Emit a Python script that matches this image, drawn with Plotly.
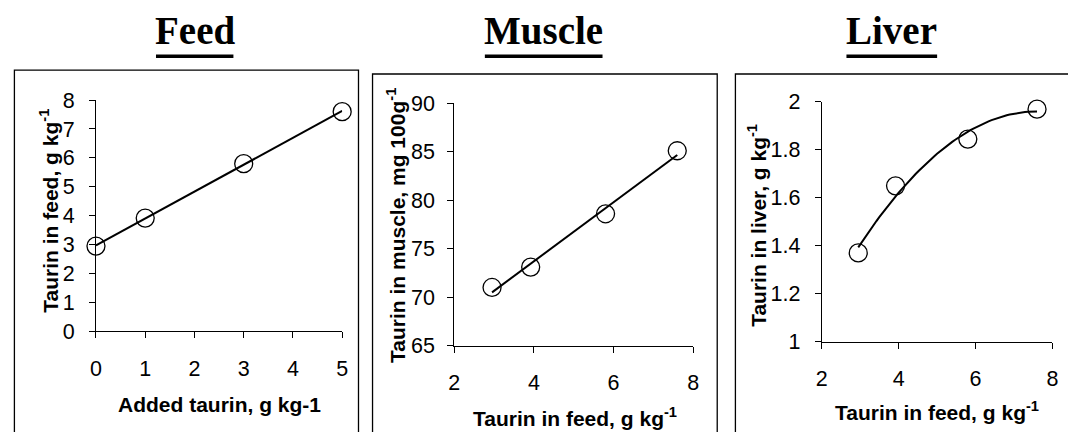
import numpy as np
import plotly.graph_objects as go

# Taurin content data
added_taurin = [0, 1, 3, 5]                 # g kg-1 added to the feed
taurin_feed = [2.95, 3.92, 5.8, 7.6]        # g kg-1 measured in feed
taurin_muscle = [71.0, 73.1, 78.6, 85.1]    # mg 100g-1 in muscle
taurin_liver = [1.37, 1.65, 1.845, 1.97]    # g kg-1 in liver

W, H = 1068, 432


def fx(p):
    return p / W


def fy(p):
    return 1 - p / H


TICK_FONT = dict(family="Liberation Sans, Arial, sans-serif", size=21.5, color="black")
TITLE_FONT = dict(family="Liberation Sans, Arial, sans-serif", size=21, color="black")
HEAD_FONT = dict(family="Liberation Serif, Times New Roman, serif", size=39, color="black")


def trend(x, y, deg, n=60):
    coef = np.polyfit(x, y, deg)
    xs = np.linspace(min(x), max(x), n)
    return xs, np.polyval(coef, xs)


fig = go.Figure()

panels = [
    ("x", "y", added_taurin, taurin_feed, 1),
    ("x2", "y2", taurin_feed, taurin_muscle, 1),
    ("x3", "y3", taurin_feed, taurin_liver, 2),
]
for xa, ya, xv, yv, deg in panels:
    tx, ty = trend(xv, yv, deg)
    fig.add_trace(go.Scatter(x=tx, y=ty, xaxis=xa, yaxis=ya, mode="lines",
                             line=dict(color="black", width=2), cliponaxis=False,
                             hoverinfo="skip"))
    fig.add_trace(go.Scatter(x=xv, y=yv, xaxis=xa, yaxis=ya, mode="markers",
                             marker=dict(symbol="circle-open", size=18, color="black",
                                         line=dict(width=1.3, color="black")),
                             cliponaxis=False))

axis_common = dict(showline=True, linecolor="black", linewidth=1, showgrid=False,
                   zeroline=False, ticks="outside", ticklen=6, tickwidth=1,
                   tickcolor="black", tickfont=TICK_FONT, fixedrange=True)

fig.update_layout(
    width=W, height=H, margin=dict(l=0, r=0, t=0, b=0),
    paper_bgcolor="white", plot_bgcolor="white", showlegend=False,
    xaxis=dict(domain=[fx(91), fx(340)], range=[0, 5], tickvals=[0, 1, 2, 3, 4, 5],
               anchor="y", ticklabelstandoff=12, **axis_common),
    yaxis=dict(domain=[fy(339.3), fy(94.3)], range=[0, 8], dtick=1,
               anchor="x", ticklabelstandoff=10, **axis_common),
    xaxis2=dict(domain=[fx(453.3), fx(695)], range=[2, 8], dtick=2,
                anchor="y2", ticklabelstandoff=12, **axis_common),
    yaxis2=dict(domain=[fy(354.3), fy(97.7)], range=[65, 90], dtick=5,
                anchor="x2", ticklabelstandoff=8, **axis_common),
    xaxis3=dict(domain=[fx(825), fx(1058.3)], range=[2, 8], dtick=2,
                anchor="y3", ticklabelstandoff=12, **axis_common),
    yaxis3=dict(domain=[fy(350), fy(96.3)], range=[1, 2], dtick=0.2,
                anchor="x3", ticklabelstandoff=10, **axis_common),
)

# panel frames (open at the bottom edge of the page)
frames = [(8.5, 356.5, 62.7), (370.7, 719.3, 66.7), (737.7, 1090, 66.7)]
for x0, x1, y0 in frames:
    fig.add_shape(type="rect", xref="paper", yref="paper",
                  x0=fx(x0), x1=fx(x1), y0=fy(y0), y1=fy(470),
                  line=dict(color="black", width=1.3), fillcolor="rgba(0,0,0,0)",
                  layer="below")

# panel headings with heavy underlines
headings = [("Feed", 191, 151.7, 230.0),
            ("Muscle", 544, 484.3, 603.3),
            ("Liver", 896, 850.0, 941.7)]
for text, cx, u0, u1 in headings:
    fig.add_annotation(text=f"<b>{text}</b>", xref="paper", yref="paper",
                       x=fx(cx), y=fy(21), xanchor="center", yanchor="middle",
                       showarrow=False, font=HEAD_FONT)
    fig.add_shape(type="line", xref="paper", yref="paper",
                  x0=fx(u0), x1=fx(u1), y0=fy(48), y1=fy(48),
                  line=dict(color="black", width=3.5))

# axis titles
x_titles = [("Added taurin, g kg-1", 215.5, 417),
            ("Taurin in feed, g kg<sup>-1</sup>", 575, 430),
            ("Taurin in feed, g kg<sup>-1</sup>", 942, 423)]
for text, cx, cy in x_titles:
    fig.add_annotation(text=f"<b>{text}</b>", xref="paper", yref="paper",
                       x=fx(cx), y=fy(cy), xanchor="center", yanchor="middle",
                       showarrow=False, font=TITLE_FONT)

y_titles = [("Taurin in feed, g kg<sup>-1</sup>", 44, 212),
            ("Taurin in muscle, mg 100g<sup>-1</sup>", 395, 227),
            ("Taurin in liver, g kg<sup>-1</sup>", 760, 227)]
for text, cx, cy in y_titles:
    fig.add_annotation(text=f"<b>{text}</b>", xref="paper", yref="paper",
                       x=fx(cx), y=fy(cy), xanchor="center", yanchor="middle",
                       textangle=-90, showarrow=False, font=TITLE_FONT)

fig.write_html("out.html")
